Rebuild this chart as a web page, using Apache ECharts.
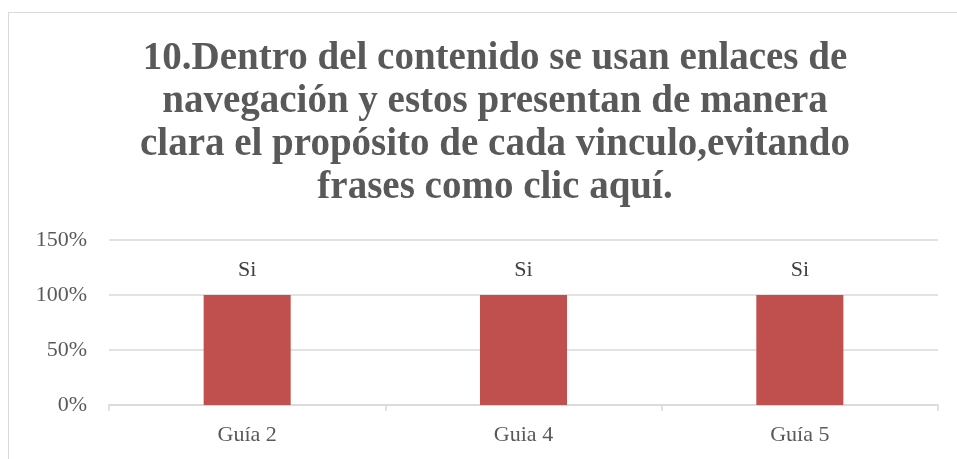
<!DOCTYPE html>
<html>
<head>
<meta charset="utf-8">
<script src="https://cdn.jsdelivr.net/npm/echarts@6/dist/echarts.min.js"></script>
<style>
    html, body {
        margin: 0;
        padding: 0;
        background: #ffffff;
    }

    .frame {
        position: absolute;
        left: 8px;
        top: 12px;
        width: 970px;
        height: 470px;
        border: 1px solid #d9d9d9;
        box-sizing: border-box;
    }

    #main {
        position: absolute;
        left: 0;
        top: 0;
        width: 957px;
        height: 459px;
    }
</style>
</head>
<body>
<div class="frame"></div>
<div id="main"></div>
<script>
    // datos del gráfico
    const categories = ['Guía 2', 'Guia 4', 'Guía 5'];
    const values = [1, 1, 1];
    const barLabels = ['Si', 'Si', 'Si'];
    const yTicks = [0, 0.5, 1, 1.5];

    const titleText = '10.Dentro del contenido se usan enlaces de\n' +
        'navegación y estos presentan de manera\n' +
        'clara el propósito de cada vinculo,evitando\n' +
        'frases como clic aquí.';

    const textColor = '#595959';
    const serif = '"Liberation Serif", "DejaVu Serif", serif';

    const chart = echarts.init(document.getElementById('main'));

    const option = {
        animation: false,
        title: {
            text: titleText,
            left: 490,
            top: 32,
            textAlign: 'center',
            textStyle: {
                fontFamily: serif,
                fontWeight: 'bold',
                fontSize: 39,
                lineHeight: 43,
                color: textColor,
                align: 'center'
            }
        },
        grid: {
            left: 109,
            right: 19,
            top: 240,
            bottom: 54,
            containLabel: false
        },
        xAxis: {
            type: 'category',
            data: categories,
            axisLine: { lineStyle: { color: '#d9d9d9', width: 1.5 } },
            axisTick: { show: true, length: 6, lineStyle: { color: '#d9d9d9', width: 1.5 } },
            axisLabel: {
                fontFamily: serif,
                fontSize: 22,
                color: textColor,
                margin: 19
            }
        },
        yAxis: {
            type: 'value',
            min: yTicks[0],
            max: yTicks[yTicks.length - 1],
            interval: yTicks[1] - yTicks[0],
            axisLine: { show: false },
            axisTick: { show: false },
            splitLine: { lineStyle: { color: '#d9d9d9', width: 1.5 } },
            axisLabel: {
                fontFamily: serif,
                fontSize: 22,
                color: textColor,
                margin: 22,
                formatter: function (v) {
                    return Math.round(v * 100) + '%'
                }
            }
        },
        series: [{
            type: 'bar',
            data: values,
            barWidth: '31.5%',
            itemStyle: { color: '#c0504d' },
            label: {
                show: true,
                position: 'top',
                distance: 14,
                fontFamily: serif,
                fontSize: 22,
                color: '#404040',
                formatter: function (p) {
                    return barLabels[p.dataIndex]
                }
            }
        }]
    };

    chart.setOption(option);
</script>
</body>
</html>
